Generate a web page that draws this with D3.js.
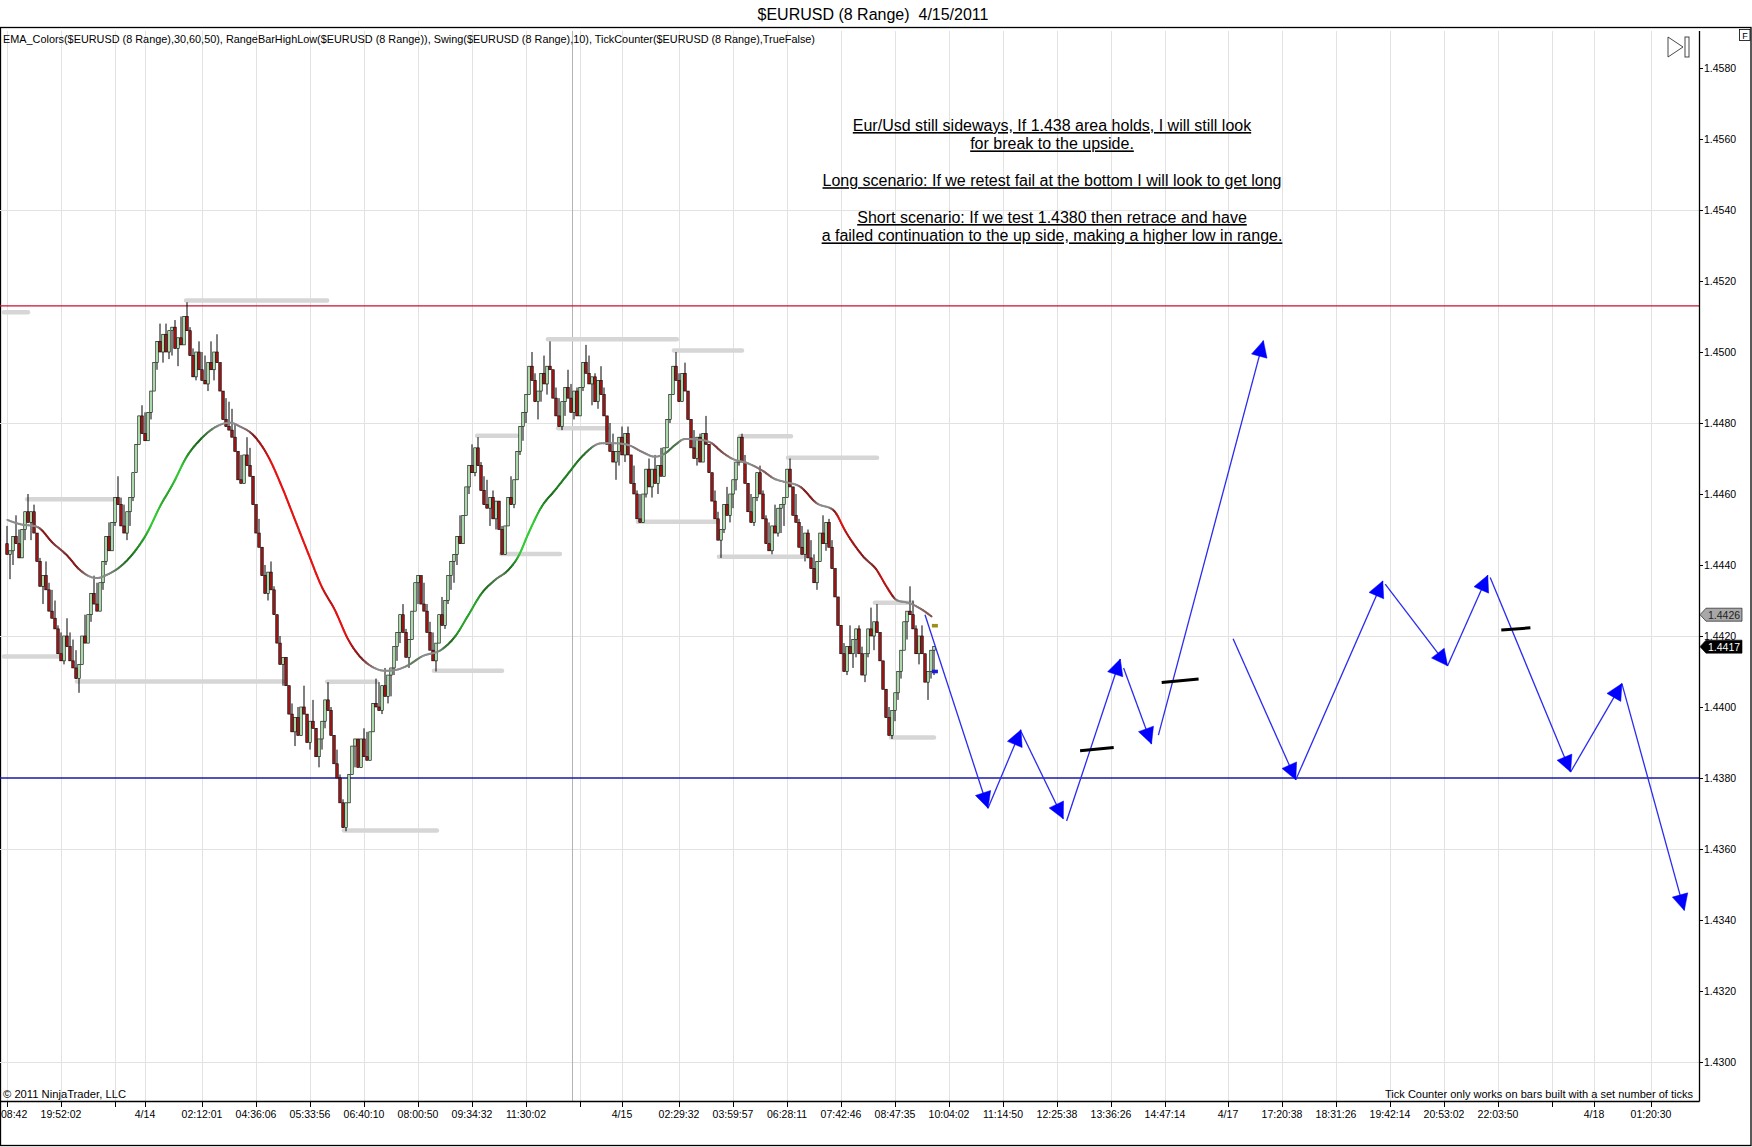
<!DOCTYPE html>
<html>
<head>
<meta charset="utf-8">
<script src="https://cdn.jsdelivr.net/npm/d3@7"></script>
<style>
body { margin: 0; background: #fff; }
text { font-family: "Liberation Sans", Arial, sans-serif; fill: #000; white-space: pre; }
</style>
</head>
<body>
<svg id="chart"></svg>
<script>
// ---- data (prices in pips above 1.4000) ----
var firstOpen = 446;
var closes = [
	443,444,448,446,442,450,455,452,455,449,
	441,434,437,433,427,425,422,415,413,420,
	417,413,411,408,412,420,418,426,432,429,
	427,435,441,448,444,452,459,457,451,449,
	455,459,466,474,482,477,475,483,489,497,
	503,500,505,500,506,507,501,504,502,510,
	506,499,493,500,495,492,491,497,495,500,
	497,489,481,479,478,476,472,464,463,471,
	468,465,457,449,445,437,432,438,433,426,
	418,412,414,406,398,393,397,392,400,398,
	390,396,394,386,391,396,402,399,392,384,
	380,373,366,373,381,389,391,383,391,386,
	385,393,401,400,399,406,403,409,411,417,
	421,426,421,414,419,427,435,437,429,427,
	421,416,413,418,426,423,430,437,441,443,
	448,446,454,462,468,466,473,468,461,457,
	456,459,453,458,450,443,451,459,457,464,
	472,479,483,488,496,492,486,489,494,491,
	496,495,487,482,479,486,490,487,483,489,
	482,490,497,494,491,493,486,492,488,482,
	474,472,469,472,476,471,477,471,463,460,
	453,452,460,467,462,467,463,468,465,473,
	481,488,496,492,486,494,489,481,473,470,
	476,469,477,474,466,458,453,447,450,457,
	454,460,464,469,476,469,463,455,452,459,
	466,460,453,446,444,451,449,456,457,459,
	467,462,454,452,445,443,449,442,439,435,
	441,449,446,452,445,439,431,423,415,410,
	417,415,419,422,415,409,415,422,420,424,
	421,413,405,397,392,399,404,410,416,424,
	427,426,422,415,420,415,407,410,416,417
];
var barRange = 8;

// EMA(30): bar index / value
var emaBar = [0.1,4.3,9.9,15.4,19.9,24.3,29.9,33.2,37.7,42.1,46.6,51,55.4,59.9,64.3,68.8,74.3,77.7,82.1,
	87.1,91.6,96,100.4,104.9,109.3,113.8,118.2,121.6,126,129.3,133.8,138.2,144.9,149.3,153.8,158.2,162.7,167.1,
	170.5,173.8,178.2,182.7,187.1,191.6,198.2,202.7,207.1,211.6,216,219.3,222.7,226,231.6,234.9,238.2,241.6,247.1,251.6,
	256,258.8,264.3,269.9,275.4,279.9,285.4,289.9,293.2,296.6,301,304.3,308.2];
var emaPips = [452.7,451.5,450.8,446.1,442.8,438.6,436.3,437.2,439.5,443.3,448.9,456.5,463,470.5,475.2,478.5,480.1,479,476.6,
	470.5,462.1,452.7,443.3,433.9,427.3,418.9,413.7,411.4,410.2,410.4,411.8,414.2,416.2,419.8,425.9,432,435.8,438.6,
	442.5,448.9,456.4,461.1,465.8,470.5,474.3,474.3,473.8,471.9,470.5,471.4,473.8,475.5,475.2,474.3,471.9,470,468.6,466.7,
	464.2,463.5,462.1,457.4,455.5,448.9,442.4,438.6,433.9,430.1,429.2,427.8,425.5];

// swing levels (grey bars)
var swingFrom = [-1,6.7,-1,23.3,59.7,106.7,112.3,142.3,156.7,164.7,180.3,183.7,210.3,222.3,237.3,244.3,260.3,289.3,294.7];
var swingTo   = [7,36,17.7,92,106.7,123.3,143.3,165,170,184.3,223.3,200,237,245,265,261.3,290,301.7,309];
var swingPips = [511.2,458.5,414.2,407.2,514.5,407.1,365.2,410.2,476.4,443.1,503.6,478.5,452.2,500.4,442.3,476.3,470.2,429.4,391.4];

var resistancePrice = 1.4513;
var supportPrice = 1.4380;
var crossBar = 188.2;
var lastPrice = 1.4417;
var otherPrice = 1.4426;
var barMarkPips = [422.9, 410];

// hand drawn forecast arrows: [bar, pips]
var arrowFrom = [[306,426],[327,371.5],[338,393.1],[353.2,367.9],[372.2,411],[383.8,392.1],[408.7,419.2],
	[429.6,379.5],[459.4,434.6],[480.2,411.6],[494.4,436.5],[521.2,381.7],[538.3,406.6]];
var arrowTo = [[327,371.5],[338,393.6],[352.1,368.5],[371.1,413.5],[381.5,389.6],[418.8,503.2],[429.6,379.5],
	[458.6,435.5],[480.2,411.6],[493.6,437.1],[521.2,381.7],[538.3,406.6],[559.1,342.7]];
var dashFrom = [[357.7,387.7],[384.9,406.9],[498.1,421.7]];
var dashTo   = [[368.9,388.6],[397.2,407.9],[507.8,422.3]];

var priceTicks = [1.4300,1.4320,1.4340,1.4360,1.4380,1.4400,1.4420,1.4440,1.4460,1.4480,1.4500,1.4520,1.4540,1.4560,1.4580];
var priceGrid = [1.4300,1.4360,1.4420,1.4480,1.4540];
var timeTickBars = [0,18,36,46,65,83,101,119,137,155,173,191,205,224,242,260,278,296,314,332,350,368,386,407,425,443,461,479,497,515,529,548];
var timeTickLabels = ["08:42","19:52:02","","4/14","02:12:01","04:36:06","05:33:56","06:40:10","08:00:50","09:34:32","11:30:02","",
	"4/15","02:29:32","03:59:57","06:28:11","07:42:46","08:47:35","10:04:02","11:14:50","12:25:38","13:36:26","14:47:14",
	"4/17","17:20:38","18:31:26","19:42:14","20:53:02","22:03:50","","4/18","01:20:30"];

var noteLines = ["Eur/Usd still sideways, If 1.438 area holds, I will still look", "for break to the upside.", "",
	"Long scenario: If we retest fail at the bottom I will look to get long", "",
	"Short scenario: If we test 1.4380 then retrace and have",
	"a failed continuation to the up side, making a higher low in range."];

// ---- layout ----
var W = 1752, H = 1147;
var plotL = 0, plotR = 1699, plotT = 31, plotB = 1101;

var svg = d3.select('#chart').attr('width', W).attr('height', H);
svg.append('rect').attr('width', W).attr('height', H).attr('fill', '#fff');

var x = d3.scaleLinear().domain([0, 564]).range([7, 1699]);
var y = d3.scaleLinear().domain([1.4300, 1.4580]).range([1062, 68]);
function pp(p) { return 1.4 + p / 10000; }

svg.append('defs').append('clipPath').attr('id', 'plot')
	.append('rect').attr('x', plotL).attr('y', plotT).attr('width', plotR - plotL).attr('height', plotB - plotT);

// title
svg.append('text').attr('x', 873).attr('y', 20).attr('text-anchor', 'middle')
	.style('font-size', '16px').text('$EURUSD (8 Range)  4/15/2011');

// frame
svg.append('rect').attr('x', 0.5).attr('y', 27.5).attr('width', 1750.5).attr('height', 1118)
	.attr('fill', 'none').attr('stroke', '#000').attr('stroke-width', 1.3);

var plot = svg.append('g').attr('clip-path', 'url(#plot)');

// grid
plot.selectAll('line.vg').data(timeTickBars).enter().append('line')
	.attr('class', 'vg')
	.attr('x1', function(d){ return Math.round(x(d)) + 0.5; })
	.attr('x2', function(d){ return Math.round(x(d)) + 0.5; })
	.attr('y1', plotT).attr('y2', plotB)
	.attr('stroke', '#e2e2e2').attr('stroke-width', 1);
plot.selectAll('line.hg').data(priceGrid).enter().append('line')
	.attr('class', 'hg')
	.attr('x1', plotL).attr('x2', plotR)
	.attr('y1', function(d){ return Math.round(y(d)) + 0.5; })
	.attr('y2', function(d){ return Math.round(y(d)) + 0.5; })
	.attr('stroke', '#e2e2e2').attr('stroke-width', 1);

// crosshair line
plot.append('line')
	.attr('x1', Math.round(x(crossBar)) + 0.5).attr('x2', Math.round(x(crossBar)) + 0.5)
	.attr('y1', plotT).attr('y2', plotB)
	.attr('stroke', '#b4b4b4').attr('stroke-width', 1);

// indicator label
svg.append('text').attr('x', 3).attr('y', 43).style('font-size', '11px')
	.attr('textLength', 812).attr('lengthAdjust', 'spacingAndGlyphs')
	.text('EMA_Colors($EURUSD (8 Range),30,60,50), RangeBarHighLow($EURUSD (8 Range)), Swing($EURUSD (8 Range),10), TickCounter($EURUSD (8 Range),TrueFalse)');

// swing levels
plot.selectAll('line.sw').data(swingPips).enter().append('line')
	.attr('class', 'sw')
	.attr('x1', function(d, i){ return x(swingFrom[i]); })
	.attr('x2', function(d, i){ return x(swingTo[i]); })
	.attr('y1', function(d){ return y(pp(d)); })
	.attr('y2', function(d){ return y(pp(d)); })
	.attr('stroke', '#d6d6d6').attr('stroke-width', 4.5).attr('stroke-linecap', 'round');

// support / resistance
plot.append('line').attr('x1', plotL).attr('x2', plotR)
	.attr('y1', y(resistancePrice)).attr('y2', y(resistancePrice))
	.attr('stroke', '#c8102e').attr('stroke-width', 1.1);
plot.append('line').attr('x1', plotL).attr('x2', plotR)
	.attr('y1', y(supportPrice)).attr('y2', y(supportPrice))
	.attr('stroke', '#1818a8').attr('stroke-width', 1.3);

// range bars
var bars = closes.map(function(c, i){
	var prev = i === 0 ? firstOpen : closes[i-1];
	var up = c >= prev;
	var hi = up ? c : c + barRange;
	var lo = up ? c - barRange : c;
	var o = Math.max(lo, Math.min(hi, prev));
	return { i: i, o: o, c: c, hi: hi, lo: lo, up: up };
});
var bw = 2.5;
var cg = plot.append('g');
cg.selectAll('line.wick').data(bars).enter().append('line')
	.attr('class', 'wick')
	.attr('x1', function(d){ return x(d.i); }).attr('x2', function(d){ return x(d.i); })
	.attr('y1', function(d){ return y(pp(d.hi)); }).attr('y2', function(d){ return y(pp(d.lo)); })
	.attr('stroke', '#000').attr('stroke-width', 1);
cg.selectAll('rect.body').data(bars).enter().append('rect')
	.attr('class', 'body')
	.attr('x', function(d){ return x(d.i) - bw / 2; })
	.attr('width', bw)
	.attr('y', function(d){ return y(pp(Math.max(d.o, d.c))); })
	.attr('height', function(d){ return Math.max(1, Math.abs(y(pp(d.o)) - y(pp(d.c)))); })
	.attr('fill', function(d){ return d.up ? '#b2e4b2' : '#a11616'; })
	.attr('stroke', '#000').attr('stroke-width', 0.6);

// EMA with slope colours
var emaPts = emaBar.map(function(b, i){ return [x(b), y(pp(emaPips[i]))]; });
var emaPath = svg.append('path')
	.attr('d', d3.line().curve(d3.curveMonotoneX)(emaPts))
	.attr('fill', 'none').attr('stroke', 'none');
var node = emaPath.node(), len = node.getTotalLength();
var samples = [];
for (var s = 0; s <= len; s += 2) samples.push(node.getPointAtLength(s));
samples.push(node.getPointAtLength(len));
var greenC = d3.scaleLinear().domain([0.35, 0.9, 1.8]).range(['#8c8c8c', '#1d6b1d', '#34cc34']).clamp(true);
var redC = d3.scaleLinear().domain([0.35, 0.9, 1.8]).range(['#8c8c8c', '#7e1b1b', '#e81212']).clamp(true);
var segs = [];
for (var k = 1; k < samples.length; k++) {
	var a = samples[Math.max(0, k - 3)], b = samples[Math.min(samples.length - 1, k + 2)];
	var slope = -((b.y - a.y) / 3.55) / ((b.x - a.x) / 3 || 1);
	segs.push({ a: samples[k-1], b: samples[k], col: slope >= 0 ? greenC(slope) : redC(-slope) });
}
plot.selectAll('line.ema').data(segs).enter().append('line')
	.attr('class', 'ema')
	.attr('x1', function(d){ return d.a.x; }).attr('y1', function(d){ return d.a.y; })
	.attr('x2', function(d){ return d.b.x; }).attr('y2', function(d){ return d.b.y; })
	.attr('stroke', function(d){ return d.col; })
	.attr('stroke-width', 2).attr('stroke-linecap', 'round');

// current bar projected high/low marks
plot.selectAll('rect.bm').data(barMarkPips).enter().append('rect')
	.attr('class', 'bm')
	.attr('x', x(308.3)).attr('width', 6)
	.attr('y', function(d){ return y(pp(d)) - 1.8; }).attr('height', 3.6)
	.attr('fill', function(d, i){ return i === 0 ? '#9a8f1c' : '#1a1ad8'; });

// forecast arrows
var ag = plot.append('g');
ag.selectAll('line.arr').data(arrowFrom).enter().append('line')
	.attr('class', 'arr')
	.attr('x1', function(d){ return x(d[0]); }).attr('y1', function(d){ return y(pp(d[1])); })
	.attr('x2', function(d, i){ return x(arrowTo[i][0]); }).attr('y2', function(d, i){ return y(pp(arrowTo[i][1])); })
	.attr('stroke', '#2b2bef').attr('stroke-width', 1.3);
ag.selectAll('path.head').data(arrowTo).enter().append('path')
	.attr('class', 'head')
	.attr('d', function(d, i){
		var tx = x(d[0]), ty = y(pp(d[1]));
		var fx = x(arrowFrom[i][0]), fy = y(pp(arrowFrom[i][1]));
		var dx = tx - fx, dy = ty - fy, l = Math.sqrt(dx*dx + dy*dy);
		var ux = dx / l, uy = dy / l, hl = 16, hw = 8;
		var bx = tx - ux * hl, by = ty - uy * hl;
		return 'M' + tx + ',' + ty + 'L' + (bx - uy * hw) + ',' + (by + ux * hw) + 'L' + (bx + uy * hw) + ',' + (by - ux * hw) + 'Z';
	})
	.attr('fill', '#0000ff').attr('stroke', '#0000ff').attr('stroke-width', 0.5);

// black dashes
plot.selectAll('line.dash').data(dashFrom).enter().append('line')
	.attr('class', 'dash')
	.attr('x1', function(d){ return x(d[0]); }).attr('y1', function(d){ return y(pp(d[1])); })
	.attr('x2', function(d, i){ return x(dashTo[i][0]); }).attr('y2', function(d, i){ return y(pp(dashTo[i][1])); })
	.attr('stroke', '#000').attr('stroke-width', 3);

// note text
svg.append('g').selectAll('text').data(noteLines).enter().append('text')
	.attr('x', 1052).attr('y', function(d, i){ return 131 + i * 18.4; })
	.attr('text-anchor', 'middle').attr('text-decoration', 'underline')
	.style('font-size', '16px').text(function(d){ return d; });

// axes
svg.append('line').attr('x1', plotR + 0.5).attr('x2', plotR + 0.5).attr('y1', plotT).attr('y2', plotB + 0.5)
	.attr('stroke', '#000').attr('stroke-width', 1.3);
svg.append('line').attr('x1', 0).attr('x2', plotR + 0.5).attr('y1', plotB + 0.5).attr('y2', plotB + 0.5)
	.attr('stroke', '#000').attr('stroke-width', 1.3);

var ya = svg.append('g');
ya.selectAll('line').data(priceTicks).enter().append('line')
	.attr('x1', plotR).attr('x2', plotR + 4)
	.attr('y1', function(d){ return Math.round(y(d)) + 0.5; }).attr('y2', function(d){ return Math.round(y(d)) + 0.5; })
	.attr('stroke', '#000');
ya.selectAll('text').data(priceTicks).enter().append('text')
	.attr('x', plotR + 5).attr('y', function(d){ return y(d) + 4; })
	.style('font-size', '10.5px').text(function(d){ return d3.format('.4f')(d); });

var xa = svg.append('g');
xa.selectAll('line').data(timeTickBars).enter().append('line')
	.attr('x1', function(d){ return Math.round(x(d)) + 0.5; }).attr('x2', function(d){ return Math.round(x(d)) + 0.5; })
	.attr('y1', plotB).attr('y2', plotB + 6)
	.attr('stroke', '#000');
xa.selectAll('text').data(timeTickLabels).enter().append('text')
	.attr('x', function(d, i){ return x(timeTickBars[i]); }).attr('y', 1118)
	.attr('text-anchor', 'middle').style('font-size', '10.5px').text(function(d){ return d; })
	.each(function(){
		// keep the first label inside the panel, as the original clips it at the edge
		var bb = this.getBBox();
		if (bb.x < 1) d3.select(this).attr('text-anchor', 'start').attr('x', 1);
	});

// price markers on the axis
function marker(price, fill, txt) {
	var cy = y(price);
	svg.append('path')
		.attr('d', 'M' + (plotR + 1) + ',' + cy + 'L' + (plotR + 7) + ',' + (cy - 6.5) + 'H1742V' + (cy + 6.5) + 'H' + (plotR + 7) + 'Z')
		.attr('fill', fill).attr('stroke', '#000').attr('stroke-width', 0.6);
	svg.append('text').attr('x', plotR + 9).attr('y', cy + 4)
		.style('font-size', '10.5px').style('fill', txt).text(d3.format('.4f')(price));
}
marker(otherPrice, '#a8a8a8', '#222');
marker(lastPrice, '#000', '#fff');

// corner glyphs
svg.append('rect').attr('x', 1739.5).attr('y', 29.5).attr('width', 10.5).attr('height', 11)
	.attr('fill', '#fff').attr('stroke', '#000').attr('stroke-width', 0.8);
svg.append('text').attr('x', 1745).attr('y', 38.5).attr('text-anchor', 'middle').style('font-size', '9px').text('F');
svg.append('path').attr('d', 'M1668,37L1683,47L1668,57Z').attr('fill', 'none').attr('stroke', '#333').attr('stroke-width', 0.9);
svg.append('rect').attr('x', 1685).attr('y', 37).attr('width', 4).attr('height', 20)
	.attr('fill', 'none').attr('stroke', '#333').attr('stroke-width', 0.9);

// footers
svg.append('text').attr('x', 3).attr('y', 1098).style('font-size', '11px')
	.attr('textLength', 123).attr('lengthAdjust', 'spacingAndGlyphs').text('\u00a9 2011 NinjaTrader, LLC');
svg.append('text').attr('x', 1385).attr('y', 1098).style('font-size', '11px')
	.attr('textLength', 308).attr('lengthAdjust', 'spacingAndGlyphs')
	.text('Tick Counter only works on bars built with a set number of ticks');
</script>
</body>
</html>
